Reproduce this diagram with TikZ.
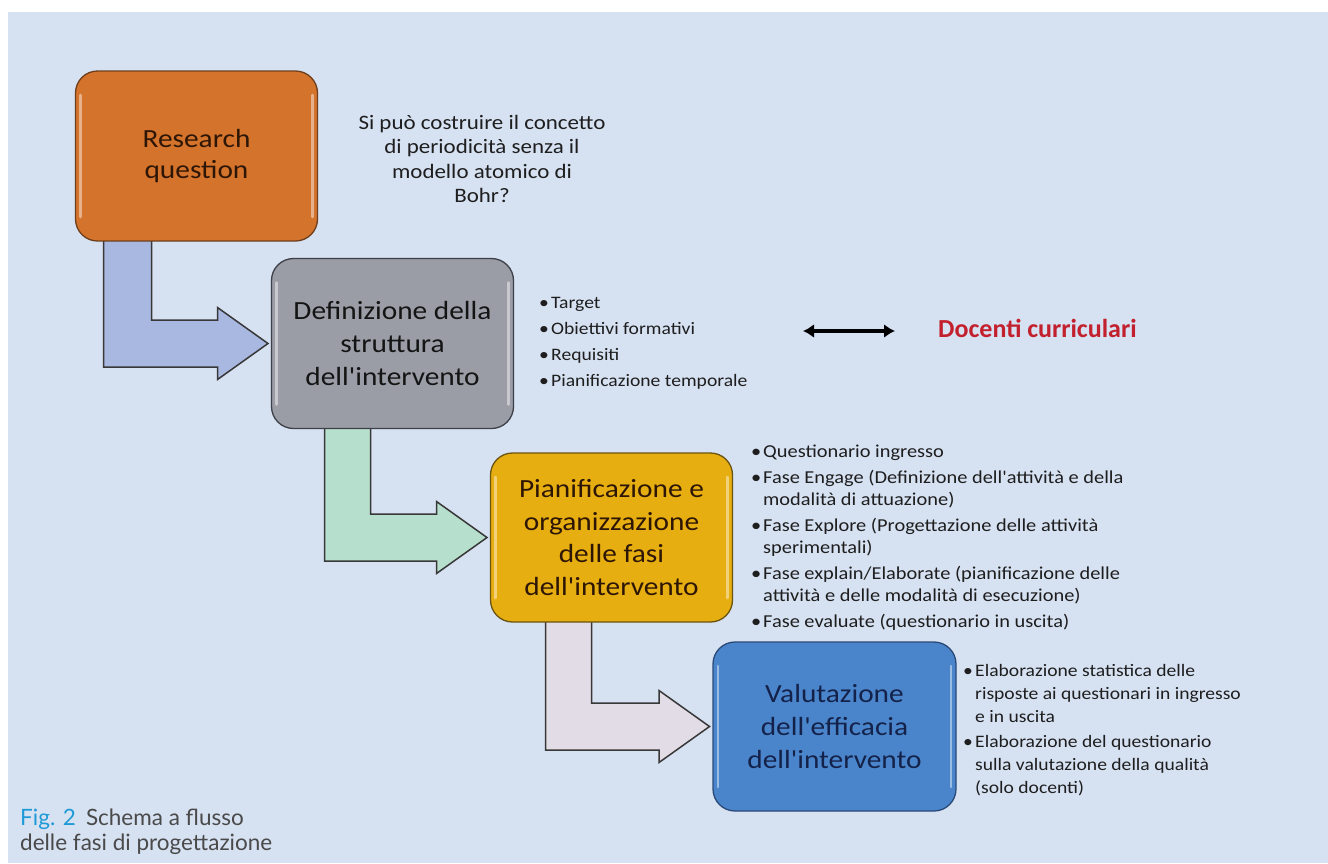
\documentclass[tikz,border=0pt]{standalone}
\usepackage{fontspec}
\setmainfont{Carlito}[FakeStretch=1.12, Ligatures=TeXOff]
\newfontfamily\plainfont{Carlito}
\newfontfamily\capfont{Lato}
\usetikzlibrary{calc,arrows.meta}
\pgfdeclarelayer{bottom}
\pgfdeclarelayer{background}
\pgfsetlayers{bottom,background,main}
\definecolor{bgc}{HTML}{D6E1F2}
\definecolor{orangebox}{HTML}{D4732C}
\definecolor{orangeedge}{HTML}{6E3F1C}
\definecolor{graybox}{HTML}{9A9DA6}
\definecolor{grayedge}{HTML}{3E4048}
\definecolor{yellowbox}{HTML}{E6AE10}
\definecolor{yellowedge}{HTML}{6A5410}
\definecolor{bluebox}{HTML}{4A85CB}
\definecolor{blueedge}{HTML}{2A4A78}
\definecolor{arrowA}{HTML}{A9B8E1}
\definecolor{arrowB}{HTML}{B7DFCD}
\definecolor{arrowC}{HTML}{E2DCE6}
\definecolor{docred}{HTML}{C3202E}
\definecolor{figblue}{HTML}{1E9AD6}
\definecolor{captext}{HTML}{4A4A4A}
\definecolor{boxtextA}{HTML}{2E1606}
\definecolor{boxtextD}{HTML}{14224A}
\definecolor{listtextc}{HTML}{1E1E1E}
\newcommand\bul{\strut\makebox[12pt][l]{\textbullet}}
\newcommand\cnt{\strut\hspace*{12pt}}
\begin{document}
\begin{tikzpicture}[x=1pt,y=-1pt,
  phasebox/.style={rounded corners=22pt, line width=1.3pt, minimum width=242pt,
    minimum height=170pt, inner sep=0pt, outer sep=0pt, align=center,
    font=\fontsize{26.2}{33}\selectfont},
  bendarrow/.style={draw=black!78, line width=1.5pt, line join=miter},
  gloss/.style={white, opacity=.45, line width=2.5pt, line cap=round},
  listtext/.style={anchor=north west, align=left, inner sep=0pt, text=listtextc},
]
\useasboundingbox (0,0) rectangle (1328,863);
\begin{pgfonlayer}{bottom}
\fill[bgc] (8,12) rectangle (1328,863);
\end{pgfonlayer}

% phase boxes
\node[phasebox, fill=orangebox, draw=orangeedge, text=boxtextA,
  font=\fontsize{26.2}{31}\selectfont] (rq) at (196.5,156) {Research\\question};
\node[phasebox, fill=graybox, draw=grayedge, text=black!92] (def) at (392.5,343.5)
  {Definizione della\\struttura\\dell'intervento};
\node[phasebox, fill=yellowbox, draw=yellowedge, text=boxtextA, minimum height=169pt,
  font=\fontsize{26.2}{32.5}\selectfont] (plan) at (611.5,537.5)
  {Pianificazione e\\organizzazione\\delle fasi\\dell'intervento};
\node[phasebox, fill=bluebox, draw=blueedge, text=boxtextD, minimum height=169pt,
  minimum width=243pt] (val) at (834.5,726.5)
  {Valutazione\\dell'efficacia\\dell'intervento};

\foreach \b in {rq,def,plan,val}{
  \draw[gloss] ($(\b.north west)+(5pt,-24pt)$) -- ($(\b.south west)+(5pt,24pt)$);
  \draw[gloss] ($(\b.north east)+(-5pt,-24pt)$) -- ($(\b.south east)+(-5pt,24pt)$);
}

% bent arrows
\begin{pgfonlayer}{background}
\draw[bendarrow, fill=arrowA] let \p1=(rq.south west), \p2=(def.west) in
  (\x1+28pt,\y1+5pt) -- (\x1+76pt,\y1+5pt) -- (\x1+76pt,\y2+23.5pt)
  -- (\x2-54pt,\y2+23.5pt) -- (\x2-54pt,\y2+36pt) -- (\x2-3.5pt,\y2)
  -- (\x2-54pt,\y2-36pt) -- (\x2-54pt,\y2-23.5pt) -- (\x1+28pt,\y2-23.5pt) -- cycle;
\draw[bendarrow, fill=arrowB] let \p1=(def.south west), \p2=(plan.west) in
  (\x1+53pt,\y1+5pt) -- (\x1+99pt,\y1+5pt) -- (\x1+99pt,\y2+23.5pt)
  -- (\x2-54pt,\y2+23.5pt) -- (\x2-54pt,\y2+36pt) -- (\x2-3.5pt,\y2)
  -- (\x2-54pt,\y2-36pt) -- (\x2-54pt,\y2-23.5pt) -- (\x1+53pt,\y2-23.5pt) -- cycle;
\draw[bendarrow, fill=arrowC] let \p1=(plan.south west), \p2=(val.west) in
  (\x1+55pt,\y1+5pt) -- (\x1+101pt,\y1+5pt) -- (\x1+101pt,\y2+23.5pt)
  -- (\x2-54pt,\y2+23.5pt) -- (\x2-54pt,\y2+36pt) -- (\x2-3.5pt,\y2)
  -- (\x2-54pt,\y2-36pt) -- (\x2-54pt,\y2-23.5pt) -- (\x1+55pt,\y2-23.5pt) -- cycle;
\end{pgfonlayer}

% research question text
\node[anchor=north, align=center, inner sep=0pt, text=listtextc,
  font=\fontsize{20.5}{24.5}\selectfont] (q) at (482,112)
  {\strut Si può costruire il concetto\\di periodicità senza il\\modello atomico di\\Bohr?};

% lists
\node[listtext, font=\fontsize{17.5}{26}\selectfont] (l1) at (539,290)
  {\bul Target\\\bul Obiettivi formativi\\\bul Requisiti\\\bul Pianificazione temporale};
\node[listtext, font=\fontsize{18.2}{22.5}\selectfont] (l2) at (751,442)
  {\bul Questionario ingresso\\[3pt]%
   \bul Fase Engage (Definizione dell'attività e della\\\cnt modalità di attuazione)\\[3pt]%
   \bul Fase Explore (Progettazione delle attività\\\cnt sperimentali)\\[3pt]%
   \bul Fase explain/Elaborate (pianificazione delle\\\cnt attività e delle modalità di esecuzione)\\[3pt]%
   \bul Fase evaluate (questionario in uscita)};
\node[listtext, font=\fontsize{17.5}{23}\selectfont] (l3) at (963,660)
  {\bul Elaborazione statistica delle\\\cnt risposte ai questionari in ingresso\\\cnt e in uscita\\[2pt]%
   \bul Elaborazione del questionario\\\cnt sulla valutazione della qualità\\\cnt (solo docenti)};

% docenti
\node[anchor=base west, inner sep=0pt, text=docred,
  font=\plainfont\fontsize{26}{30}\selectfont\bfseries] (doc) at (938,337) {Docenti curriculari};
\coordinate (da) at (803,331);
\coordinate (db) at (895,331);
\draw[line width=3.4pt, {Latex[length=11pt,width=14pt]}-{Latex[length=11pt,width=14pt]}] (da) -- (db);

% caption
\node[anchor=north west, align=left, inner sep=0pt, text=captext,
  font=\capfont\fontsize{22.5}{25}\selectfont] (cap) at (20,807.5)
  {\strut\textcolor{figblue}{Fig. 2}\hspace{10pt}Schema a flusso\\delle fasi di progettazione};
\end{tikzpicture}
\end{document}
